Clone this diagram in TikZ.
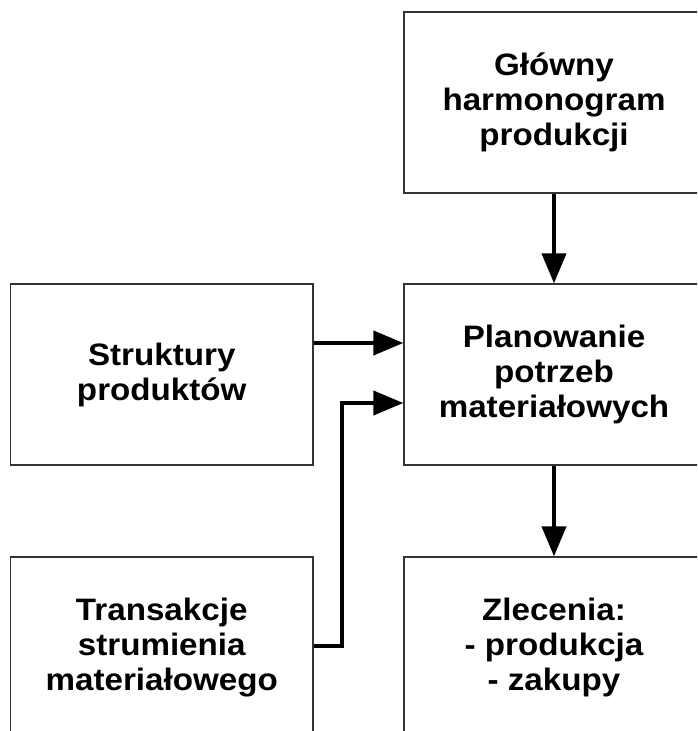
\documentclass[tikz,border=0pt]{standalone}
\usepackage{fontspec}
\setmainfont[FakeStretch=1.07]{Liberation Sans}
\usetikzlibrary{arrows.meta}
\begin{document}
\begin{tikzpicture}[x=1pt,y=-1pt,
  block/.style={draw=black!80, line width=1.3pt, fill=white, inner sep=0pt,
    minimum height=181pt, align=center,
    font=\bfseries\fontsize{31}{35}\selectfont},
  leftblock/.style={block, minimum width=302.5pt},
  rightblock/.style={block, minimum width=300pt},
  conn/.style={line width=4pt, -{Triangle[length=30pt,width=24pt]}}]
  \useasboundingbox (0,0) rectangle (697,731);
  \clip (0,0) rectangle (697,731);
  \fill[white] (0,0) rectangle (697,731);

  % blocks
  \node[rightblock] (mps)  at (554,102.5) {Główny\\harmonogram\\produkcji};
  \node[rightblock] (mrp)  at (554,374.5) {Planowanie\\potrzeb\\materiałowych};
  \node[rightblock] (ord)  at (554,647.5) {Zlecenia:\\- produkcja\\- zakupy};
  \node[leftblock]  (bom)  at (161.75,374.5) {Struktury\\produktów};
  \node[leftblock]  (inv)  at (161.75,647.5) {Transakcje\\strumienia\\materiałowego};

  % connector levels
  \coordinate (bomY) at (0,343);
  \coordinate (invIn) at (0,403);
  \coordinate (invOut) at (0,646);
  \coordinate (bend) at (342,0);

  % connectors
  \draw[conn] (mps.south) -- (mrp.north);
  \draw[conn] (mrp.south) -- (ord.north);
  \draw[conn] (bom.east |- bomY) -- (mrp.west |- bomY);
  \draw[conn] (inv.east |- invOut) -- (bend |- invOut) -- (bend |- invIn) -- (mrp.west |- invIn);
\end{tikzpicture}
\end{document}
